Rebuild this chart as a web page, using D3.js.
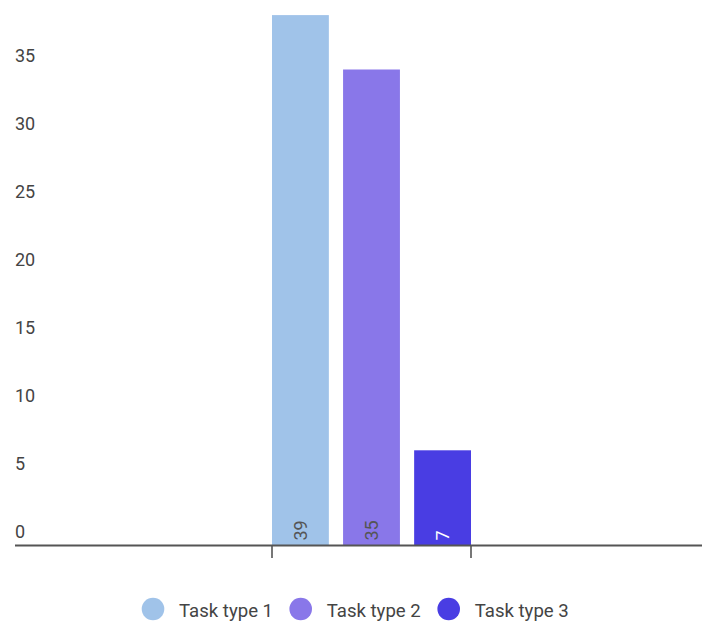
<!DOCTYPE html>
<html>
<head>
<meta charset="utf-8">
<script src="https://cdn.jsdelivr.net/npm/d3@7"></script>
<style>
  html, body { margin: 0; padding: 0; background: #fff; }
  svg { display: block; font-family: Roboto, "Noto Sans", sans-serif; }
</style>
</head>
<body>
<svg id="chart" width="702" height="623"></svg>
<script>
// Chart data
const seriesNames = ["Task type 1", "Task type 2", "Task type 3"];
const seriesValues = [39, 35, 7];
const seriesColors = ["#A0C3E9", "#8977E9", "#493DE3"];
const labelColors = ["#555555", "#555555", "#ffffff"];
const yTickValues = [0, 5, 10, 15, 20, 25, 30, 35];

const svg = d3.select("#chart");
const W = 702, H = 623;

const baseY = 545.5;
const y = d3.scaleLinear().domain([0, 40]).range([baseY, 1.5]);

// One category group, bars side by side within it
const groupX = d3.scaleBand().domain(["group"]).range([272, 471]).padding(0);
const x = d3.scaleBand().domain(seriesNames)
  .range([groupX("group"), groupX("group") + groupX.bandwidth()])
  .paddingInner(0.2).paddingOuter(0);

// Y tick labels, sitting just above each value level
const yAxis = d3.axisLeft(y).tickValues(yTickValues).tickSize(0).tickPadding(0);
const yg = svg.append("g").attr("transform", "translate(15,0)").call(yAxis);
yg.select(".domain").remove();
yg.selectAll("text")
  .attr("text-anchor", "start")
  .attr("x", 0)
  .attr("dy", "-8px")
  .attr("font-size", 18)
  .attr("font-family", "Roboto, sans-serif")
  .attr("fill", "#444");

// Bars
svg.append("g").selectAll("rect")
  .data(seriesValues)
  .join("rect")
  .attr("x", (d, i) => x(seriesNames[i]))
  .attr("width", x.bandwidth())
  .attr("y", d => y(d))
  .attr("height", d => y(0) - y(d))
  .attr("fill", (d, i) => seriesColors[i]);

// Rotated value labels near the bottom of each bar
svg.append("g").selectAll("text")
  .data(seriesValues)
  .join("text")
  .attr("transform", (d, i) => `translate(${x(seriesNames[i]) + x.bandwidth() / 2 + 6.5},${y(0) - 5}) rotate(-90)`)
  .attr("text-anchor", "start")
  .attr("font-size", 18)
  .attr("fill", (d, i) => labelColors[i])
  .text(d => d);

// Baseline and group tick marks
svg.append("line")
  .attr("x1", 15).attr("x2", W)
  .attr("y1", baseY).attr("y2", baseY)
  .attr("stroke", "#555").attr("stroke-width", 2.2);
const edges = [groupX.range()[0], groupX.range()[1]];
svg.append("g").selectAll("line")
  .data(edges)
  .join("line")
  .attr("x1", d => d).attr("x2", d => d)
  .attr("y1", baseY).attr("y2", 558)
  .attr("stroke", "#555").attr("stroke-width", 1.6);

// Legend
const legendX = [153, 300.7, 448.7];
const legend = svg.append("g").selectAll("g")
  .data(seriesNames)
  .join("g")
  .attr("transform", (d, i) => `translate(${legendX[i]},609)`);
legend.append("circle").attr("r", 11.3).attr("fill", (d, i) => seriesColors[i]);
legend.append("text")
  .attr("x", 26).attr("y", 8.3)
  .attr("font-size", 18.6)
  .attr("fill", "#444")
  .text(d => d);
</script>
</body>
</html>
